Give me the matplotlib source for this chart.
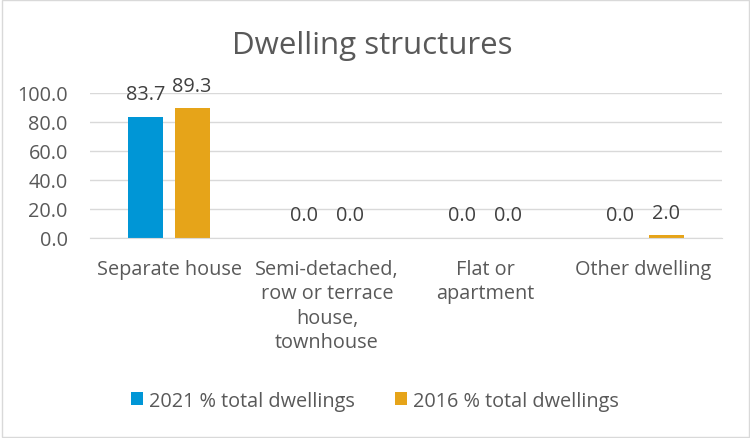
import numpy as np
import matplotlib.pyplot as plt
from matplotlib.patches import Rectangle

categories = ["Separate house", "Semi-detached,\nrow or terrace\nhouse,\ntownhouse",
              "Flat or\napartment", "Other dwelling"]
pct_2021 = [83.7, 0.0, 0.0, 0.0]
pct_2016 = [89.3, 0.0, 0.0, 2.0]

plt.rcParams['font.family'] = ['Open Sans', 'DejaVu Sans']
txt = '#595959'
fs = 14.3

fig = plt.figure(figsize=(7.5, 4.39), dpi=100)
ax = fig.add_axes([0.12, 0.4556, 0.843, 0.3304])

x = np.arange(len(categories))
w = 0.222
b1 = ax.bar(x - 0.146, pct_2021, w, color='#0096D6', label='2021 % total dwellings')
b2 = ax.bar(x + 0.146, pct_2016, w, color='#E6A419', label='2016 % total dwellings')
for bars in (b1, b2):
    for r in bars:
        ax.annotate(f"{r.get_height():.1f}", (r.get_x() + r.get_width() / 2, r.get_height()),
                    xytext=(0, 9), textcoords='offset points', ha='center', va='bottom',
                    fontsize=fs, color='#404040')

ax.set_xlim(-0.5, 3.5)
ax.set_ylim(0, 100)
ax.set_yticks(np.arange(0, 101, 20))
ax.set_yticklabels([f"{v:.1f}" for v in np.arange(0, 101, 20)], fontsize=fs, color=txt)
ax.set_xticks(x)
ax.set_xticklabels(categories, fontsize=fs, color=txt, va='top', linespacing=1.3)
ax.tick_params(axis='y', length=0, pad=16)
ax.tick_params(axis='x', length=0, pad=15)
ax.yaxis.grid(True, color='#D9D9D9', linewidth=1)
ax.set_axisbelow(True)
for s in ax.spines.values():
    s.set_visible(False)
ax.spines['bottom'].set_visible(True)
ax.spines['bottom'].set_color('#D9D9D9')

fig.text(0.497, 0.895, "Dwelling structures", ha='center', va='center', fontsize=22.5, color=txt)
fig.legend(loc='center', bbox_to_anchor=(0.5, 0.085), ncol=2, frameon=False,
           fontsize=fs, labelcolor=txt, handlelength=0.6, handleheight=0.6,
           handletextpad=0.3, columnspacing=2.0)
fig.patches.append(Rectangle((0.002, 0.003), 0.996, 0.994, transform=fig.transFigure,
                             fill=False, edgecolor='#D9D9D9', linewidth=1))
fig.savefig('out.png', dpi=100)
